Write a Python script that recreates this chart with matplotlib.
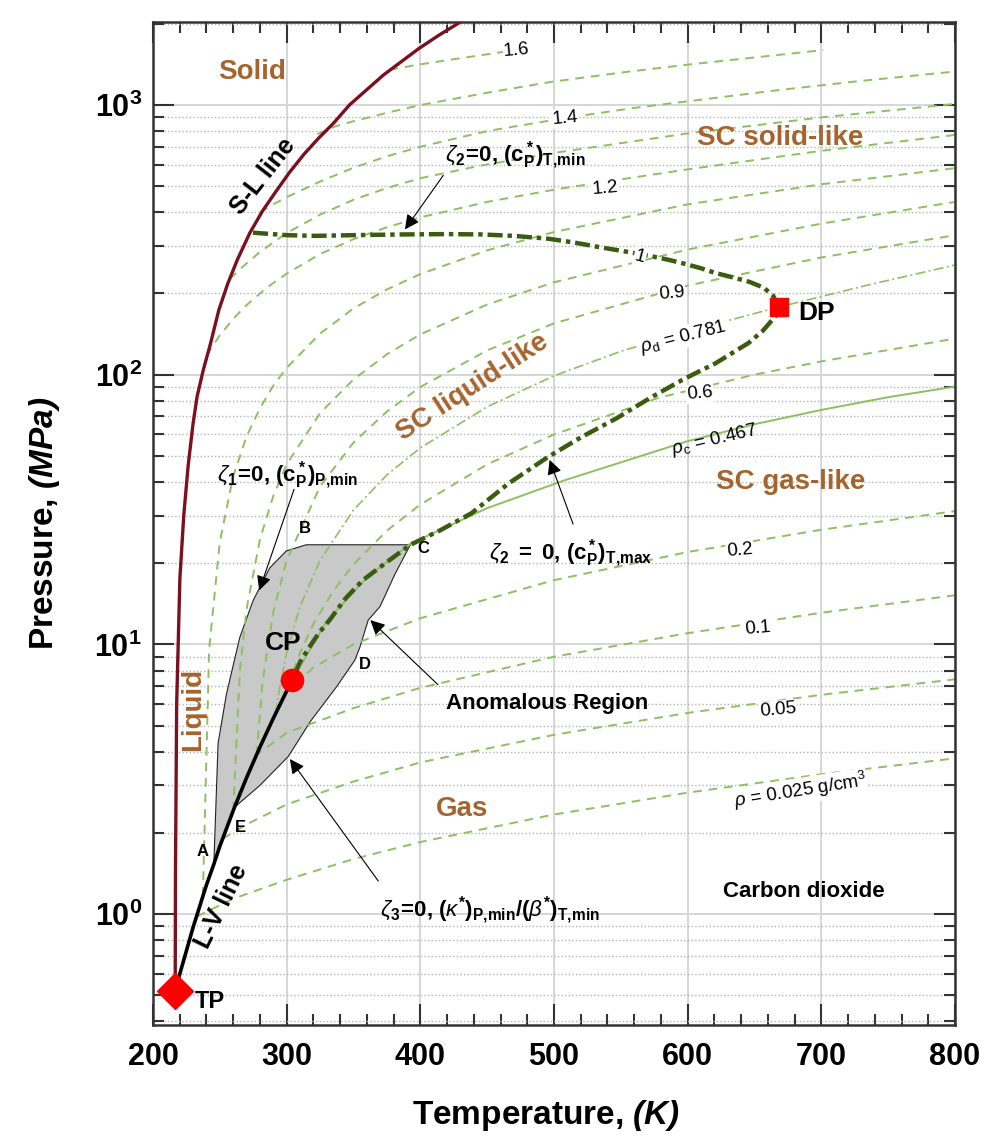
import matplotlib
matplotlib.use("Agg")
import matplotlib.pyplot as plt
from matplotlib.ticker import MultipleLocator, LogLocator, NullFormatter

# ---- values (T in K, P in MPa) ----
tp_T, tp_P = 216.6, 0.518
cp_T, cp_P = 304.13, 7.377
dp_T, dp_P = 668.0, 178.0

# solid-liquid line
sl_T = [216.6, 216.8, 217.7, 220.1, 223, 226.3, 230, 233, 237.6, 242.6, 249.3, 256, 263,
        272.4, 282, 292, 302.2, 313, 324, 335, 347, 360, 372.3, 386, 399, 414, 430]
sl_P = [0.518, 1.4, 6.0, 17.5, 30, 46, 66, 83, 104, 128, 174, 218, 266,
        335, 405, 478, 563, 657, 754, 855, 1000, 1140, 1290, 1450, 1620, 1815, 2030]

# liquid-vapour line
lv_T = [216.6, 220, 230, 240, 245.5, 250, 261, 270, 280, 290, 300, 304.13]
lv_P = [0.518, 0.599, 0.893, 1.283, 1.53, 1.785, 2.49, 3.203, 4.161, 5.318, 6.713, 7.377]

# zeta2 = 0 line: T,min branch from the S-L line to DP, then T,max branch down to CP
zeta2_T = [274.8, 300, 322, 350, 387, 420, 446, 470, 496, 515, 534, 552, 571, 585, 596,
           610, 621, 633, 646, 657, 664, 668,
           667, 665.4, 656, 645.5, 633, 620.6, 608, 595.8, 572, 546.8, 520, 495.2, 466,
           438.1, 415, 392.5, 375, 357, 344, 332.1, 324, 317.2, 310, 304.13]
zeta2_P = [336, 329, 327, 329, 331, 332, 331, 327, 319, 309, 297, 287, 276, 267, 259,
           248, 238, 230, 221, 210, 196, 178,
           172, 164, 145, 131, 120, 110, 102.5, 95.5, 82, 68.9, 58.5, 49.4, 39.5,
           30.6, 26.5, 23.4, 20.2, 17.3, 14.8, 12.3, 11.0, 9.8, 8.6, 7.38]

# anomalous region: left edge (zeta1) A->B->C, right edge (zeta3) C->D->E
zeta1_T = [245.5, 248.7, 255, 264.9, 274.8, 287.3, 299.7, 314.6, 332, 392.5]
zeta1_P = [1.53, 4.3, 6.56, 10.6, 14.5, 19.2, 22.2, 23.4, 23.4, 23.4]
zeta3_T = [392.5, 381, 369.8, 361, 354.9, 351.1, 337.4, 318, 301.2, 280, 261]
zeta3_P = [23.4, 18.2, 13.8, 12.3, 9.8, 8.75, 6.97, 5.2, 3.84, 3.0, 2.49]

# isochores (g/cm3)
iso_0025_T = [233, 260, 300, 350, 400, 500, 600, 700, 800]
iso_0025_P = [0.98, 1.14, 1.34, 1.60, 1.85, 2.34, 2.82, 3.30, 3.78]
iso_005_T = [252, 270, 300, 350, 400, 500, 600, 700, 800]
iso_005_P = [1.90, 2.15, 2.55, 3.10, 3.65, 4.62, 5.57, 6.50, 7.42]
iso_01_T = [276, 300, 350, 400, 500, 600, 700, 800]
iso_01_P = [3.85, 4.70, 5.80, 6.90, 9.00, 11.0, 13.1, 15.2]
iso_02_T = [298, 320, 350, 400, 500, 600, 700, 800]
iso_02_P = [6.55, 8.20, 10.0, 12.5, 17.3, 22.0, 26.6, 31.2]
iso_0467_T = [304.13, 330, 360, 392.5, 450, 508.7, 599, 650, 700, 750, 800]
iso_0467_P = [7.38, 12.2, 17.7, 23.6, 32.0, 40.7, 56.5, 65.5, 74.0, 82.5, 90.3]
iso_06_T = [301.5, 305, 310, 320, 335, 350, 375, 400, 450, 500, 578, 650, 700, 800]
iso_06_P = [7.0, 8.0, 9.3, 11.9, 15.8, 19.8, 26.4, 33.0, 46.5, 60.0, 82.0, 100, 112, 136]
iso_0781_T = [291.7, 295, 300, 310, 325, 350, 375, 400, 450, 500, 550, 600, 635, 668, 735, 800]
iso_0781_P = [5.55, 7.0, 9.3, 13.8, 20.5, 31.5, 42.5, 53.5, 76, 99, 122, 145, 161, 178, 215, 255]
iso_09_T = [277.5, 282, 290, 300, 325, 350, 375, 400, 450, 500, 600, 700, 800]
iso_09_P = [3.9, 7.3, 13.2, 20.5, 38.5, 56, 73, 90, 123, 155, 214, 272, 329]
iso_10_T = [260, 265, 270, 280, 290, 300, 325, 350, 375, 400, 450, 500, 600, 700, 800]
iso_10_P = [2.42, 8.0, 13.5, 24.5, 35.5, 46.5, 72, 96, 119, 141, 182, 220, 291, 363, 437]
iso_11_T = [237.3, 242, 250, 260, 270, 280, 290, 300, 325, 350, 375, 400, 450, 500, 600, 700, 800]
iso_11_P = [1.17, 9.6, 24, 42, 59, 75, 91, 106, 142, 176, 207, 236, 289, 338, 428, 508, 583]
iso_12_T = [240, 250, 260, 270, 285, 300, 325, 350, 375, 400, 450, 500, 537, 600, 700, 800]
iso_12_P = [118, 140, 161, 181, 210, 237, 280, 318, 352, 383, 437, 485, 518, 577, 676, 774]
iso_13_T = [257.5, 265, 280, 300, 325, 350, 375, 400, 443, 500, 600, 700, 800]
iso_13_P = [226, 246, 285, 335, 392, 445, 492, 535, 593, 664, 784, 899, 1009]
iso_14_T = [280, 290, 300, 325, 350, 375, 400, 450, 507.5, 560, 618, 670, 727.6, 800]
iso_14_P = [400, 428, 455, 520, 585, 645, 700, 800, 893, 975, 1058, 1138, 1225, 1330]
iso_15_T = [323, 337, 350, 375, 400.5, 450, 498.7, 550, 597, 650, 701.5]
iso_15_P = [780, 835, 870, 935, 1000, 1110, 1219, 1318, 1405, 1500, 1597]
iso_16_T = [377, 399.3, 430, 463]
iso_16_P = [1350, 1413, 1490, 1575]

xticks = [200, 300, 400, 500, 600, 700, 800]
yticks = [1, 10, 100, 1000]
yticklabels = [r"$\mathbf{10^{0}}$", r"$\mathbf{10^{1}}$", r"$\mathbf{10^{2}}$", r"$\mathbf{10^{3}}$"]

# ---- style ----
plt.rcParams["font.family"] = ["Liberation Sans", "DejaVu Sans"]
plt.rcParams["mathtext.fontset"] = "custom"
plt.rcParams["mathtext.rm"] = "Liberation Sans"
plt.rcParams["mathtext.it"] = "Liberation Sans:italic"
plt.rcParams["mathtext.bf"] = "Liberation Sans:bold"
plt.rcParams["mathtext.bfit"] = "Liberation Sans:italic:bold"

iso_col = "#8dc063"
brown = "#a5642e"
dash = (0, (4.5, 3.5))

fig = plt.figure(figsize=(10, 11.4), dpi=100)
ax = fig.add_axes([0.153, 0.1009, 0.802, 0.8798])
ax.set_yscale("log")
ax.set_xlim(200, 800)
ax.set_ylim(0.388, 2030)

# grid
ax.set_axisbelow(True)
ax.grid(True, which="major", color="#d6d6d6", lw=1.4, ls="-")
ax.grid(True, which="minor", axis="y", color="#b4b4b4", lw=1.0, ls=(0, (1, 1.6)))

# anomalous region
reg_T = zeta1_T + zeta3_T[1:] + [250]
reg_P = zeta1_P + zeta3_P[1:] + [1.785]
ax.fill(reg_T, reg_P, facecolor="#c9c9c9", edgecolor="none", zorder=1)
ax.plot(zeta1_T, zeta1_P, color="#222222", lw=0.8, zorder=1.5)
ax.plot(zeta3_T, zeta3_P, color="#222222", lw=0.8, zorder=1.5)

# isochores
dashed = [(iso_0025_T, iso_0025_P), (iso_005_T, iso_005_P), (iso_01_T, iso_01_P),
          (iso_02_T, iso_02_P), (iso_06_T, iso_06_P), (iso_09_T, iso_09_P),
          (iso_10_T, iso_10_P), (iso_11_T, iso_11_P), (iso_12_T, iso_12_P),
          (iso_13_T, iso_13_P), (iso_14_T, iso_14_P), (iso_15_T, iso_15_P),
          (iso_16_T, iso_16_P)]
for T, P in dashed:
    ax.plot(T, P, color=iso_col, lw=1.4, ls=dash, zorder=2)
ax.plot(iso_0467_T, iso_0467_P, color=iso_col, lw=1.4, ls="-", zorder=2)
ax.plot(iso_0781_T, iso_0781_P, color=iso_col, lw=1.2, ls=(0, (6, 2, 1.2, 2)), zorder=2)

# main lines
ax.plot(zeta2_T, zeta2_P, color="#3a5c10", lw=3.2, ls=(0, (3.4, 1.1, 1.0, 1.1)), zorder=4)
ax.plot(sl_T, sl_P, color="#7b1020", lw=2.4, zorder=5)
ax.plot(lv_T, lv_P, color="black", lw=2.6, zorder=5)

ax.plot(tp_T, tp_P, marker="D", ms=18, color="red", zorder=6, clip_on=False)
ax.plot(cp_T, cp_P, marker="o", ms=16, color="red", zorder=6)
ax.plot(dp_T, dp_P, marker="s", ms=13, color="red", zorder=6)

# ---- text ----
def lab(T, P, s, size=13.5, rot=0, bg=True, **kw):
    box = dict(boxstyle="square,pad=0.05", fc="white", ec="none") if bg else None
    ax.text(T, P, s, fontsize=size, rotation=rot, ha="center", va="center",
            bbox=box, zorder=7, **kw)

lab(472.1, 1600, "1.6", rot=5)
lab(508.2, 893, "1.4", rot=5)
lab(538.1, 491, "1.2", rot=5)
lab(564.3, 274, "1", rot=-15)
lab(588, 200, "0.9", rot=5)
lab(596.7, 138, r"$\rho_\mathrm{d}$ = 0.781", rot=14)
lab(609.1, 85.3, "0.6", rot=5)
lab(620, 57.3, r"$\rho_\mathrm{c}$ = 0.467", rot=13, bg=False)
lab(639, 22.4, "0.2", rot=5)
lab(652.6, 11.5, "0.1", rot=5)
lab(667.6, 5.71, "0.05", rot=5)
lab(684, 2.86, r"$\rho$ = 0.025 g/cm$^3$", rot=9)

def region(T, P, s, rot=0):
    ax.text(T, P, s, fontsize=20, fontweight="bold", color=brown, rotation=rot,
            ha="center", va="center", zorder=7)

region(273.8, 1329, "Solid")
region(669.1, 752, "SC solid-like")
region(439.4, 90, "SC liquid-like", rot=33)
region(677.2, 40.1, "SC gas-like")
region(230.1, 5.76, "Liquid", rot=90)
region(430.9, 2.45, "Gas")

def bold(T, P, s, size=17, rot=0, ha="center"):
    ax.text(T, P, s, fontsize=size, fontweight="bold", rotation=rot,
            ha=ha, va="center", zorder=7)

bold(282.5, 542, "S-L line", size=18, rot=52)
bold(251.4, 1.065, "L-V line", size=18, rot=64)
bold(297.5, 10.1, "CP", size=19)
bold(242.5, 0.473, "TP", size=17)
bold(682.5, 169, "DP", size=19, ha="left")
bold(687, 1.21, "Carbon dioxide", size=16)
bold(494.6, 6.06, "Anomalous Region", size=16)
for T, P, s in [(237.2, 1.71, "A"), (313.7, 26.9, "B"), (402.2, 22.7, "C"),
                (358.6, 8.39, "D"), (265.1, 2.10, "E")]:
    bold(T, P, s, size=12)

zlab = dict(fontsize=16, ha="left", va="center", zorder=7)
ax.text(418.4, 653, r"$\zeta_\mathbf{2}\mathbf{\!=\!0{,}\ (c^*_P)_{T{,}min}}$", **zlab)
ax.text(247.7, 42.5, r"$\zeta_\mathbf{1}\mathbf{\!=\!0{,}\ (c^*_P)_{P{,}min}}$", **zlab)
ax.text(451, 21.8, r"$\zeta_\mathbf{2}\mathbf{\ =\ 0{,}\ (c^*_P)_{T{,}max}}$", **zlab)
ax.text(369.8, 1.035,
        r"$\zeta_\mathbf{3}\mathbf{\!=\!0{,}\ (}\kappa^\mathbf{*}\mathbf{)_{P{,}min}/(}\beta^\mathbf{*}\mathbf{)_{T{,}min}}$",
        **zlab)

arrow = dict(arrowstyle="-|>", color="black", lw=0.8, mutation_scale=22)
for tail, head in [((418.4, 559), (387.3, 339)), ((306.2, 38.4), (278.8, 15.5)),
                   ((515, 27.3), (496, 49.4)), ((414.7, 6.97), (361.1, 12.5)),
                   ((369.8, 1.30), (301.2, 3.83))]:
    ax.annotate("", xy=head, xytext=tail, arrowprops=arrow, zorder=7)

# ---- axes ----
ax.xaxis.set_major_locator(MultipleLocator(100))
ax.xaxis.set_minor_locator(MultipleLocator(20))
ax.yaxis.set_major_locator(LogLocator(base=10, numticks=10))
ax.yaxis.set_minor_locator(LogLocator(base=10, subs=range(2, 10), numticks=20))
ax.yaxis.set_minor_formatter(NullFormatter())
ax.set_xticks(xticks, labels=[str(v) for v in xticks], fontweight="bold", fontsize=22)
ax.set_yticks(yticks, labels=yticklabels, fontsize=22)
ax.tick_params(which="both", direction="in", top=True, right=True,
               color="#333333", width=1.5)
ax.tick_params(which="major", length=15)
ax.tick_params(which="minor", length=8)
ax.tick_params(axis="x", pad=12)
ax.tick_params(axis="y", pad=8)
for sp in ax.spines.values():
    sp.set_linewidth(1.8)
    sp.set_color("#333333")

ax.set_xlabel(r"Temperature, $\mathbfit{(K)}$", fontsize=24, fontweight="bold")
ax.set_ylabel(r"Pressure, $\mathbfit{(MPa)}$", fontsize=24, fontweight="bold")
ax.xaxis.set_label_coords(0.49, -0.073)
ax.yaxis.set_label_coords(-0.113, 0.5)

fig.savefig("out.png", dpi=100)
